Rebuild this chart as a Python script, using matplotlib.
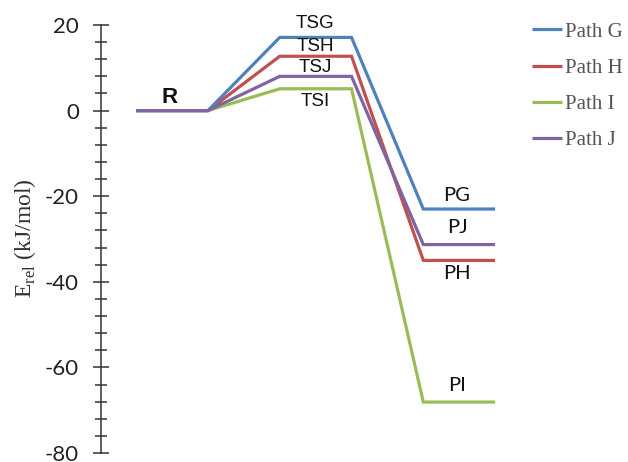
import matplotlib
matplotlib.use("Agg")
import matplotlib.pyplot as plt
from matplotlib.ticker import MultipleLocator

plt.rcParams["axes.unicode_minus"] = False

# Data
stages = ["R", "R", "TS", "TS", "P", "P"]
paths = ["Path G", "Path H", "Path I", "Path J"]
ts_energy = [17.1, 12.7, 5.1, 8.0]
p_energy = [-23.0, -35.0, -68.1, -31.3]
ts_labels = ["TSG", "TSH", "TSI", "TSJ"]
p_labels = ["PG", "PH", "PI", "PJ"]
colors = ["#4F81BD", "#C0504D", "#9BBB59", "#8064A2"]
yticks = [-80, -60, -40, -20, 0, 20]

W, H = 628, 462
fig = plt.figure(figsize=(W / 100, H / 100), dpi=100)
ax = fig.add_axes([101 / W, (H - 453) / H, (531 - 101) / W, (453 - 25) / H])

x = list(range(len(stages)))
handles = []
for name, ts, p, c in zip(paths, ts_energy, p_energy, colors):
    (ln,) = ax.plot(x, [0, 0, ts, ts, p, p], color=c, lw=2.3, solid_joinstyle="miter",
                    solid_capstyle="butt", label=name)
    handles.append(ln)

for ln, z in zip(handles, [3, 2, 2, 4]):
    ln.set_zorder(z)

ax.set_xlim(-0.49, 5.5)
ax.set_ylim(-80, 20)
ax.set_yticks(yticks)
ax.yaxis.set_minor_locator(MultipleLocator(4))
ax.set_xticks([])
for s in ["top", "right", "bottom"]:
    ax.spines[s].set_visible(False)
ax.spines["left"].set_color("#333333")
ax.spines["left"].set_linewidth(1.1)
ax.tick_params(axis="y", which="major", direction="inout", length=11.5, width=1.1,
               color="#333333", labelsize=16, pad=10)
ax.tick_params(axis="y", which="minor", direction="inout", length=8.6, width=1.1,
               color="#333333")
for t in ax.get_yticklabels():
    t.set_fontfamily(["Lato", "DejaVu Sans"])
    t.set_color("#222222")

ax.set_ylabel(r"E$_{\mathregular{rel}}$ (kJ/mol)", fontsize=17,
              family=["Liberation Serif", "DejaVu Serif"], color="#333333")
ax.yaxis.set_label_coords(-(101 - 38) / (531 - 101), (453 - 238) / (453 - 25))

# Stage labels
ax.text(0.47, 3.0, "R", ha="center", va="center", fontsize=16, fontweight="bold",
        family=["Liberation Sans", "DejaVu Sans"], color="#111111")
ts_label_y = [20.3, 14.9, 2.1, 10.1]
for lab, yy in zip(ts_labels, ts_label_y):
    ax.text(2.49, yy, lab, ha="center", va="center", fontsize=13.5,
            family=["Liberation Sans", "DejaVu Sans"], color="#111111")
p_label_y = [-19.9, -38.0, -64.2, -27.3]
for lab, yy in zip(p_labels, p_label_y):
    ax.text(4.47, yy, lab, ha="center", va="center", fontsize=14.5,
            family=["Lato", "DejaVu Sans"], color="#111111")

leg = fig.legend(handles=handles, loc="upper left", bbox_to_anchor=(532 / W, 1 - 22 / H),
                 frameon=False, handlelength=1.45, handletextpad=0.12, labelspacing=0.8,
                 borderpad=0, borderaxespad=0,
                 prop={"family": ["Liberation Serif", "DejaVu Serif"], "size": 15})
for t in leg.get_texts():
    t.set_color("#555555")

fig.savefig("out.png", dpi=100)
